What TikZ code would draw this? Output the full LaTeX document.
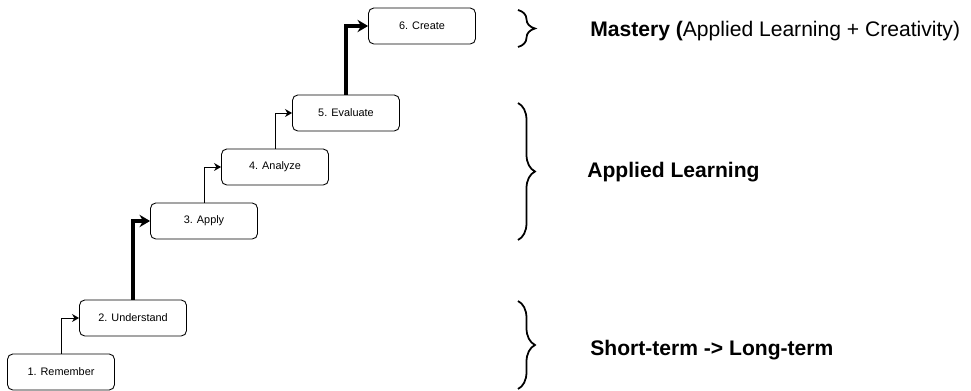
\documentclass[tikz,border=0pt]{standalone}
\usepackage{fontspec}
\setmainfont{Liberation Sans}
\usetikzlibrary{arrows.meta,decorations.pathreplacing}
\begin{document}
\begin{tikzpicture}[x=0.02cm,y=-0.02cm,
        level/.style={draw,rounded corners=3pt,minimum width=2.14cm,minimum height=0.72cm,
            inner sep=0pt,line width=0.5pt,font=\fontsize{6.2}{7.5}\selectfont},
        small link/.style={line width=0.45pt,-{Stealth[length=4pt,width=4.5pt]}},
        big link/.style={line width=2pt,-{Stealth[length=6pt,width=7pt]}},
        group/.style={decorate,decoration={brace,amplitude=0.34cm},line width=1pt},
        tag/.style={anchor=west,inner sep=0pt,font=\fontsize{12}{14}\selectfont\bfseries}]
        \useasboundingbox (0,0) rectangle (971,391);

        % the six steps
        \node[level] (rem) at (61,372) {1. Remember};
        \node[level] (und) at (133,318) {2. Understand};
        \node[level] (app) at (204,221) {3. Apply};
        \node[level] (ana) at (275,167) {4. Analyze};
        \node[level] (eva) at (346,113) {5. Evaluate};
        \node[level] (cre) at (422,26) {6. Create};

        \draw[small link] (rem.north) |- (und.west);
        \draw[big link] (und.north) |- (app.west);
        \draw[small link] (app.north) |- (ana.west);
        \draw[small link] (ana.north) |- (eva.west);
        \draw[big link] (eva.north) |- (cre.west);

        % braces and labels
        \draw[group] (518,10) -- (518,47);
        \draw[group] (518,103) -- (518,240);
        \draw[group] (518,301) -- (518,389);

        \node[tag] (mastery) at (590,31) {Mastery (\mdseries Applied Learning + Creativity)};
        \node[tag] (applied) at (587,172) {Applied Learning};
        \node[tag] (term) at (590,350) {Short-term -> Long-term};
    \end{tikzpicture}
\end{document}
